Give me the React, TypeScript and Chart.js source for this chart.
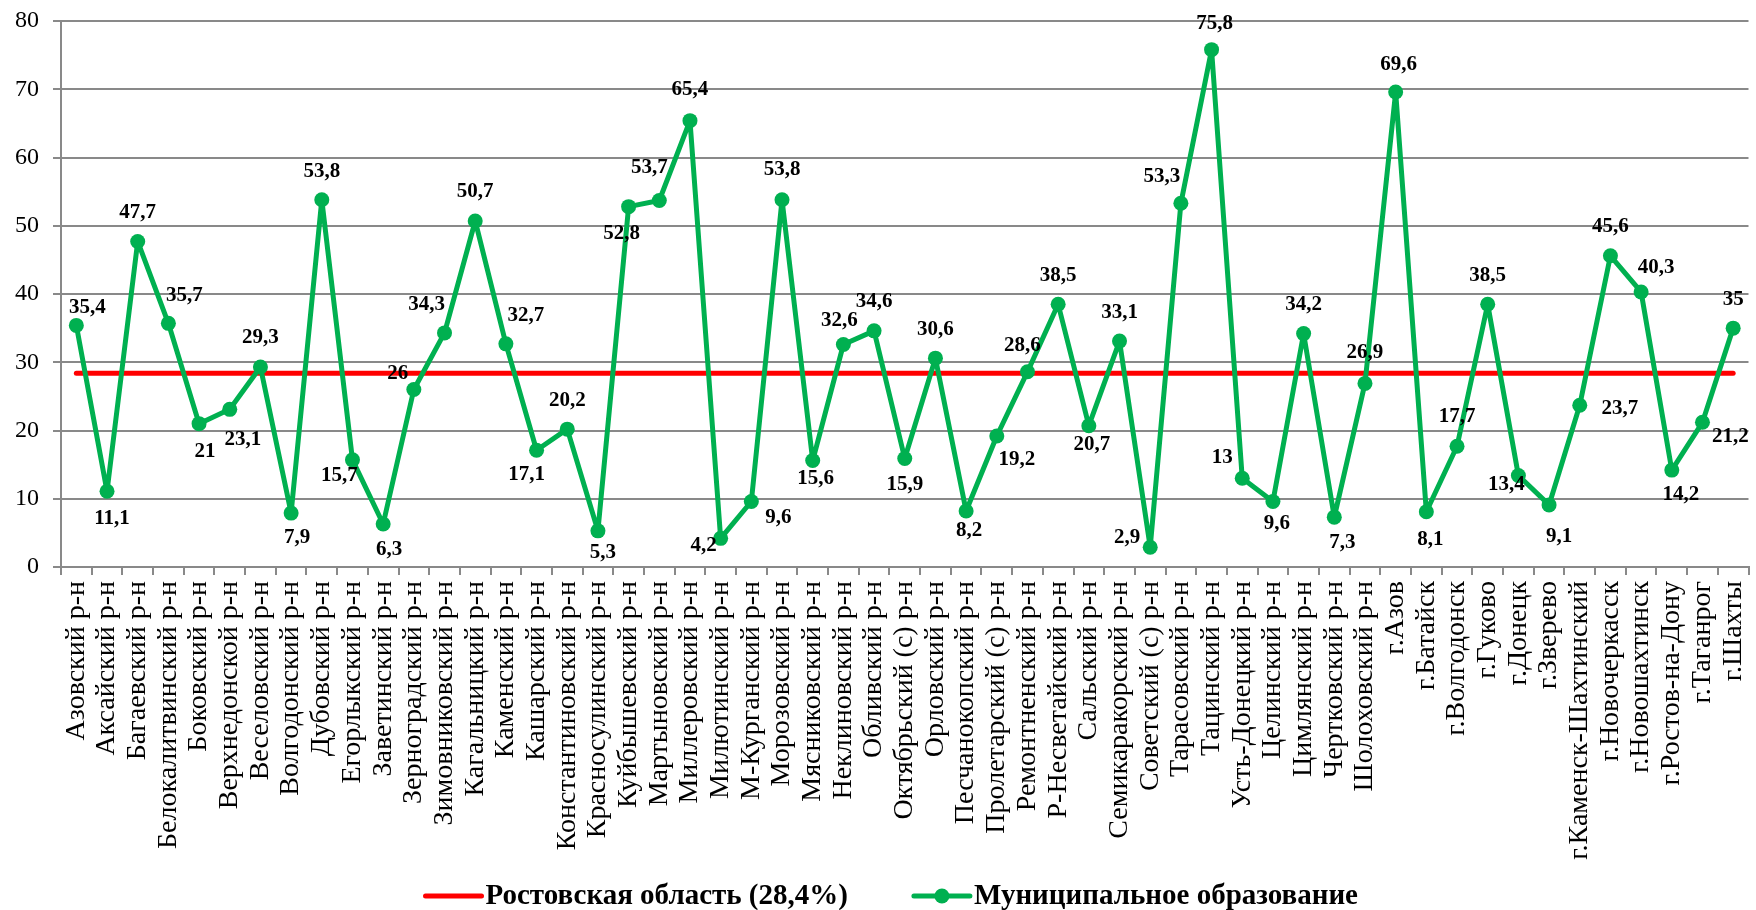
import React, { useEffect, useRef } from "react";
import { Chart, registerables } from "chart.js";

Chart.register(...registerables);

const categories = [
  "Азовский р-н", "Аксайский р-н", "Багаевский р-н", "Белокалитвинский р-н", "Боковский р-н",
  "Верхнедонской р-н", "Веселовский р-н", "Волгодонский р-н", "Дубовский р-н", "Егорлыкский р-н",
  "Заветинский р-н", "Зерноградский р-н", "Зимовниковский р-н", "Кагальницкий р-н", "Каменский р-н",
  "Кашарский р-н", "Константиновский р-н", "Красносулинский р-н", "Куйбышевский р-н", "Мартыновский р-н",
  "Миллеровский р-н", "Милютинский р-н", "М-Курганский р-н", "Морозовский р-н", "Мясниковский р-н",
  "Неклиновский р-н", "Обливский р-н", "Октябрьский (с) р-н", "Орловский р-н", "Песчанокопский р-н",
  "Пролетарский (с) р-н", "Ремонтненский р-н", "Р-Несветайский р-н", "Сальский р-н", "Семикаракорский р-н",
  "Советский (с) р-н", "Тарасовский р-н", "Тацинский р-н", "Усть-Донецкий р-н", "Целинский р-н",
  "Цимлянский р-н", "Чертковский р-н", "Шолоховский р-н", "г.Азов", "г.Батайск",
  "г.Волгодонск", "г.Гуково", "г.Донецк", "г.Зверево", "г.Каменск-Шахтинский",
  "г.Новочеркасск", "г.Новошахтинск", "г.Ростов-на-Дону", "г.Таганрог", "г.Шахты",
];

const municipalValues = [
  35.4, 11.1, 47.7, 35.7, 21, 23.1, 29.3, 7.9, 53.8, 15.7,
  6.3, 26, 34.3, 50.7, 32.7, 17.1, 20.2, 5.3, 52.8, 53.7,
  65.4, 4.2, 9.6, 53.8, 15.6, 32.6, 34.6, 15.9, 30.6, 8.2,
  19.2, 28.6, 38.5, 20.7, 33.1, 2.9, 53.3, 75.8, 13, 9.6,
  34.2, 7.3, 26.9, 69.6, 8.1, 17.7, 38.5, 13.4, 9.1, 23.7,
  45.6, 40.3, 14.2, 21.2, 35,
];

const regionAverage = 28.4;
const regionValues = categories.map(() => regionAverage);

const yMin = 0;
const yMax = 80;
const yStep = 10;

const seriesNames = ["Ростовская область (28,4%)", "Муниципальное образование"];

// label placement offsets (dx, dy) in px relative to each point
const labelOffsets: [number, number][] = [
  [11, -18], [5, 27], [0, -29], [16, -28], [6, 28], [13, 30], [0, -29], [6, 24], [0, -28], [-13, 16],
  [6, 26], [-16, -16], [-18, -28], [0, -29], [20, -28], [-10, 24], [0, -29], [5, 22], [-7, 27], [-10, -33],
  [0, -31], [-17, 7], [27, 16], [0, -30], [3, 18], [-4, -24], [0, -29], [0, 26], [0, -29], [3, 20],
  [20, 24], [-5, -26], [0, -29], [3, 19], [0, -29], [-23, -10], [-19, -27], [3, -26], [-20, -21], [4, 22],
  [0, -29], [8, 25], [0, -31], [3, -27], [4, 28], [0, -30], [0, -29], [-12, 9], [10, 32], [40, 3],
  [0, -29], [15, -24], [9, 24], [28, 14], [0, -29],
];

const GREEN = "#00B050";
const RED = "#FF0000";
const GRID = "#898989";
const SERIF = '"Liberation Serif", "Times New Roman", serif';

const fmt = (v: number) => String(v).replace(".", ",");

export default function App() {
  const ref = useRef<HTMLCanvasElement | null>(null);

  useEffect(() => {
    const canvas = ref.current;
    if (!canvas) return;

    const labelsPlugin = {
      id: "valueLabels",
      afterDatasetsDraw(chart: any) {
        const ctx = chart.ctx;
        const meta = chart.getDatasetMeta(1);
        ctx.save();
        ctx.font = `bold 21px ${SERIF}`;
        ctx.fillStyle = "#000";
        ctx.textAlign = "center";
        ctx.textBaseline = "middle";
        meta.data.forEach((pt: any, i: number) => {
          const [dx, dy] = labelOffsets[i] || [0, -28];
          ctx.fillText(fmt(municipalValues[i]), pt.x + dx, pt.y + dy);
        });
        ctx.restore();
      },
    };

    const legendPlugin = {
      id: "customLegend",
      afterDraw(chart: any) {
        const ctx = chart.ctx;
        ctx.save();
        ctx.font = `bold 29px ${SERIF}`;
        ctx.textBaseline = "middle";
        ctx.textAlign = "left";
        const lineLen = 56;
        const gapText = 4;
        const gapItems = 66;
        const w0 = ctx.measureText(seriesNames[0]).width;
        const w1 = ctx.measureText(seriesNames[1]).width;
        const total = lineLen + gapText + w0 + gapItems + lineLen + gapText + w1;
        const ca = chart.chartArea;
        let x = (ca.left + ca.right) / 2 - 13 - total / 2;
        const y = chart.height - 14;
        // red
        ctx.strokeStyle = RED;
        ctx.lineWidth = 5;
        ctx.lineCap = "round";
        ctx.beginPath();
        ctx.moveTo(x, y);
        ctx.lineTo(x + lineLen, y);
        ctx.stroke();
        x += lineLen + gapText;
        ctx.fillStyle = "#000";
        ctx.fillText(seriesNames[0], x, y + 1);
        x += w0 + gapItems;
        // green
        ctx.strokeStyle = GREEN;
        ctx.beginPath();
        ctx.moveTo(x, y);
        ctx.lineTo(x + lineLen, y);
        ctx.stroke();
        ctx.fillStyle = GREEN;
        ctx.beginPath();
        ctx.arc(x + lineLen / 2, y, 7.5, 0, Math.PI * 2);
        ctx.fill();
        x += lineLen + gapText;
        ctx.fillStyle = "#000";
        ctx.fillText(seriesNames[1], x, y + 1);
        ctx.restore();
      },
    };

    const chart = new Chart(canvas, {
      type: "line",
      data: {
        labels: categories,
        datasets: [
          {
            label: seriesNames[0],
            data: regionValues,
            borderColor: RED,
            backgroundColor: RED,
            borderWidth: 5,
            pointRadius: 0,
            borderCapStyle: "round",
            order: 1,
          },
          {
            label: seriesNames[1],
            data: municipalValues,
            borderColor: GREEN,
            backgroundColor: GREEN,
            borderWidth: 5,
            borderJoinStyle: "round",
            borderCapStyle: "round",
            pointRadius: 7.5,
            pointBorderWidth: 0,
            pointBackgroundColor: GREEN,
            tension: 0,
            order: 0,
          },
        ],
      },
      options: {
        animation: false,
        responsive: false,
        devicePixelRatio: 1,
        layout: { padding: { left: 0, right: 5, top: 21, bottom: 0 } },
        plugins: {
          legend: { display: false },
          tooltip: { enabled: false },
        },
        scales: {
          x: {
            offset: true,
            grid: {
              offset: true,
              drawOnChartArea: false,
              drawTicks: true,
              tickLength: 8,
              color: GRID,
              lineWidth: 2,
            },
            border: { display: true, color: GRID, width: 2 },
            ticks: {
              autoSkip: false,
              minRotation: 90,
              maxRotation: 90,
              padding: 6,
              color: "#000",
              font: { family: SERIF, size: 28 },
            },
            afterFit(scale: any) {
              scale.height = 343;
              scale.paddingLeft = 0;
              scale.paddingRight = 0;
            },
          },
          y: {
            min: yMin,
            max: yMax,
            ticks: {
              stepSize: yStep,
              padding: 14,
              color: "#000",
              font: { family: SERIF, size: 24 },
            },
            grid: {
              color: GRID,
              lineWidth: 2,
              drawTicks: true,
              tickLength: 8,
            },
            border: { display: true, color: GRID, width: 2 },
            afterFit(scale: any) {
              scale.width = 61;
              scale.paddingTop = 0;
              scale.paddingBottom = 0;
            },
          },
        },
      },
      plugins: [labelsPlugin, legendPlugin],
    } as any);

    return () => chart.destroy();
  }, []);

  return (
    <div style={{ position: "absolute", left: 0, top: 0, width: 1756, height: 910, background: "#fff" }}>
      <canvas ref={ref} width={1756} height={910} />
    </div>
  );
}
